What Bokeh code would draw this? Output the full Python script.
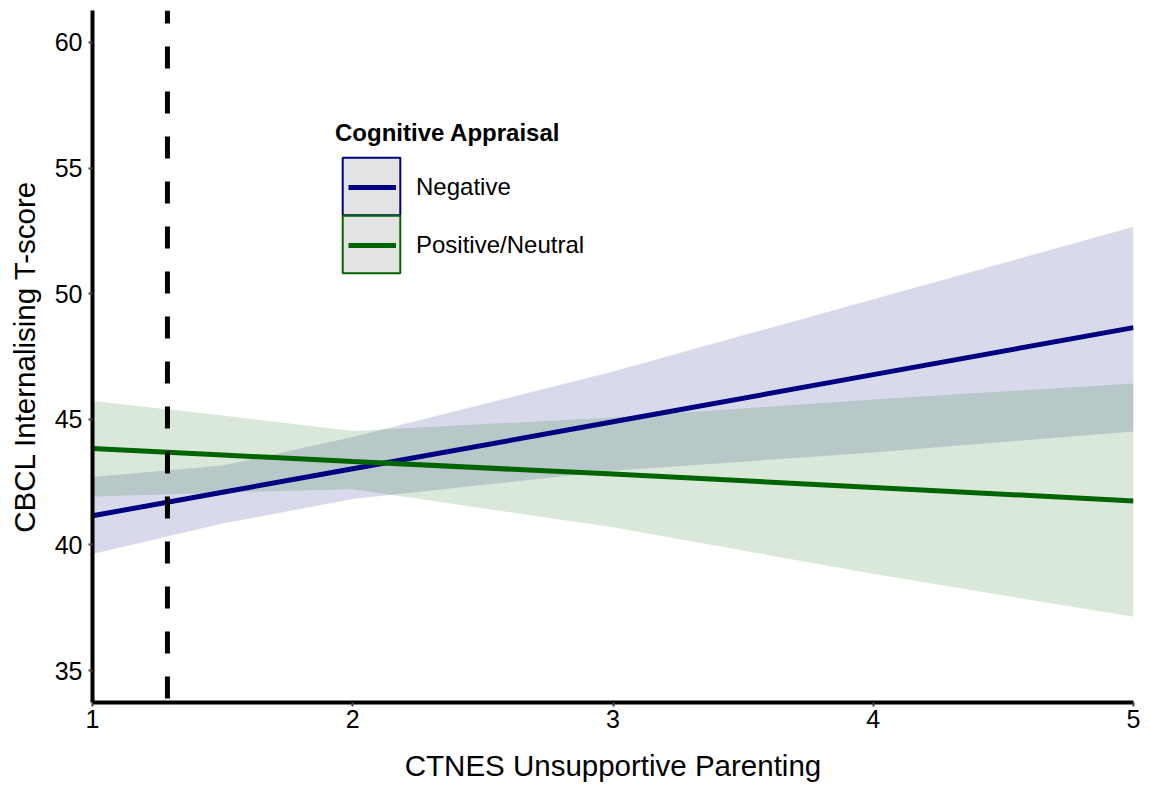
from bokeh.plotting import figure
from bokeh.models import Range1d, Span, Legend, LegendItem, FixedTicker
from bokeh.embed import file_html
from bokeh.resources import INLINE

# ---- data ----
x_band = [1.0, 1.5, 2.0, 3.0, 4.0, 5.0]

neg_fit = [41.16, 42.10, 43.03, 44.90, 46.78, 48.65]
neg_upper = [42.70, 43.16, 44.30, 46.90, 49.78, 52.66]
neg_lower = [39.64, 40.85, 41.83, 42.95, 43.68, 44.52]

pos_fit = [43.84, 43.58, 43.32, 42.82, 42.29, 41.75]
pos_upper = [45.73, 45.15, 44.54, 45.07, 45.79, 46.43]
pos_lower = [41.93, 42.08, 42.22, 40.70, 38.85, 37.14]

ref_x = 1.288

x_ticks = [1, 2, 3, 4, 5]
y_ticks = [35, 40, 45, 50, 55, 60]

series_names = ["Negative", "Positive/Neutral"]
legend_title = "Cognitive Appraisal"
x_label = "CTNES Unsupportive Parenting"
y_label = "CBCL Internalising T-score"

NAVY = "#000080"
GREEN = "#006400"
FONT = "Liberation Sans"
NAN = float("nan")

p = figure(width=1142, height=784, output_backend="svg", toolbar_location=None,
           x_range=Range1d(1, 5), y_range=Range1d(33.73, 61.27),
           min_border_left=92, min_border_right=9, min_border_top=10, min_border_bottom=80)
p.outline_line_color = None
p.grid.visible = False
p.background_fill_color = "white"

# confidence bands
p.varea(x=x_band, y1=neg_lower, y2=neg_upper, fill_color=NAVY, fill_alpha=0.15)
p.varea(x=x_band, y1=pos_lower, y2=pos_upper, fill_color=GREEN, fill_alpha=0.15)

# fitted lines
neg_line = p.line(x_band, neg_fit, line_color=NAVY, line_width=5)
pos_line = p.line(x_band, pos_fit, line_color=GREEN, line_width=5)

# legend key boxes (renderers with no visible data, used only for the legend)
neg_box = p.quad(left=[NAN], right=[NAN], top=[NAN], bottom=[NAN], fill_color="#e3e3e3",
                 fill_alpha=1.0, line_color=NAVY, line_width=2)
pos_box = p.quad(left=[NAN], right=[NAN], top=[NAN], bottom=[NAN], fill_color="#e3e3e3",
                 fill_alpha=1.0, line_color=GREEN, line_width=2)

# dashed reference line
p.add_layout(Span(location=ref_x, dimension="height", line_color="black",
                  line_width=5, line_dash="22 23", line_dash_offset=9))

# axes
for ax in (p.xaxis[0], p.yaxis[0]):
    ax.axis_line_width = 4
    ax.axis_line_color = "black"
    ax.major_tick_out = 4
    ax.major_tick_in = 0
    ax.major_tick_line_color = "#444444"
    ax.major_tick_line_width = 2
    ax.minor_tick_line_color = None
    ax.major_label_text_font = FONT
    ax.major_label_text_font_size = "25px"
    ax.major_label_text_color = "black"
    ax.axis_label_text_font = FONT
    ax.axis_label_text_font_size = "29.5px"
    ax.axis_label_text_font_style = "normal"
    ax.axis_label_text_color = "black"

p.xaxis.ticker = FixedTicker(ticks=x_ticks)
p.yaxis.ticker = FixedTicker(ticks=y_ticks)
p.xaxis.axis_label = x_label
p.yaxis.axis_label = y_label
p.xaxis.major_label_standoff = 3
p.xaxis.axis_label_standoff = 18
p.yaxis.major_label_standoff = 6
p.yaxis.axis_label_standoff = 11

common = dict(label_text_font=FONT, label_text_font_size="24px", label_text_color="black",
              padding=0, margin=0, border_line_color=None, background_fill_alpha=0)

# legend key box 1 with the title
legend_box1 = Legend(items=[LegendItem(label=" ", renderers=[neg_box])],
                     location=(243, 480), title=legend_title,
                     title_text_font=FONT, title_text_font_size="24px",
                     title_text_font_style="bold", title_text_color="black", title_standoff=3,
                     glyph_width=72, glyph_height=72, spacing=0, label_standoff=0, **common)
p.add_layout(legend_box1)

# legend key box 2
legend_box2 = Legend(items=[LegendItem(label=" ", renderers=[pos_box])],
                     location=(243, 422),
                     glyph_width=72, glyph_height=72, spacing=0, label_standoff=0, **common)
p.add_layout(legend_box2)

# legend line keys + labels
legend_lines = Legend(items=[LegendItem(label=series_names[0], renderers=[neg_line]),
                             LegendItem(label=series_names[1], renderers=[pos_line])],
                      location=(256, 428),
                      glyph_width=48, glyph_height=58, spacing=0, label_standoff=20, **common)
p.add_layout(legend_lines)

open("out.html", "w").write(file_html(p, INLINE))
